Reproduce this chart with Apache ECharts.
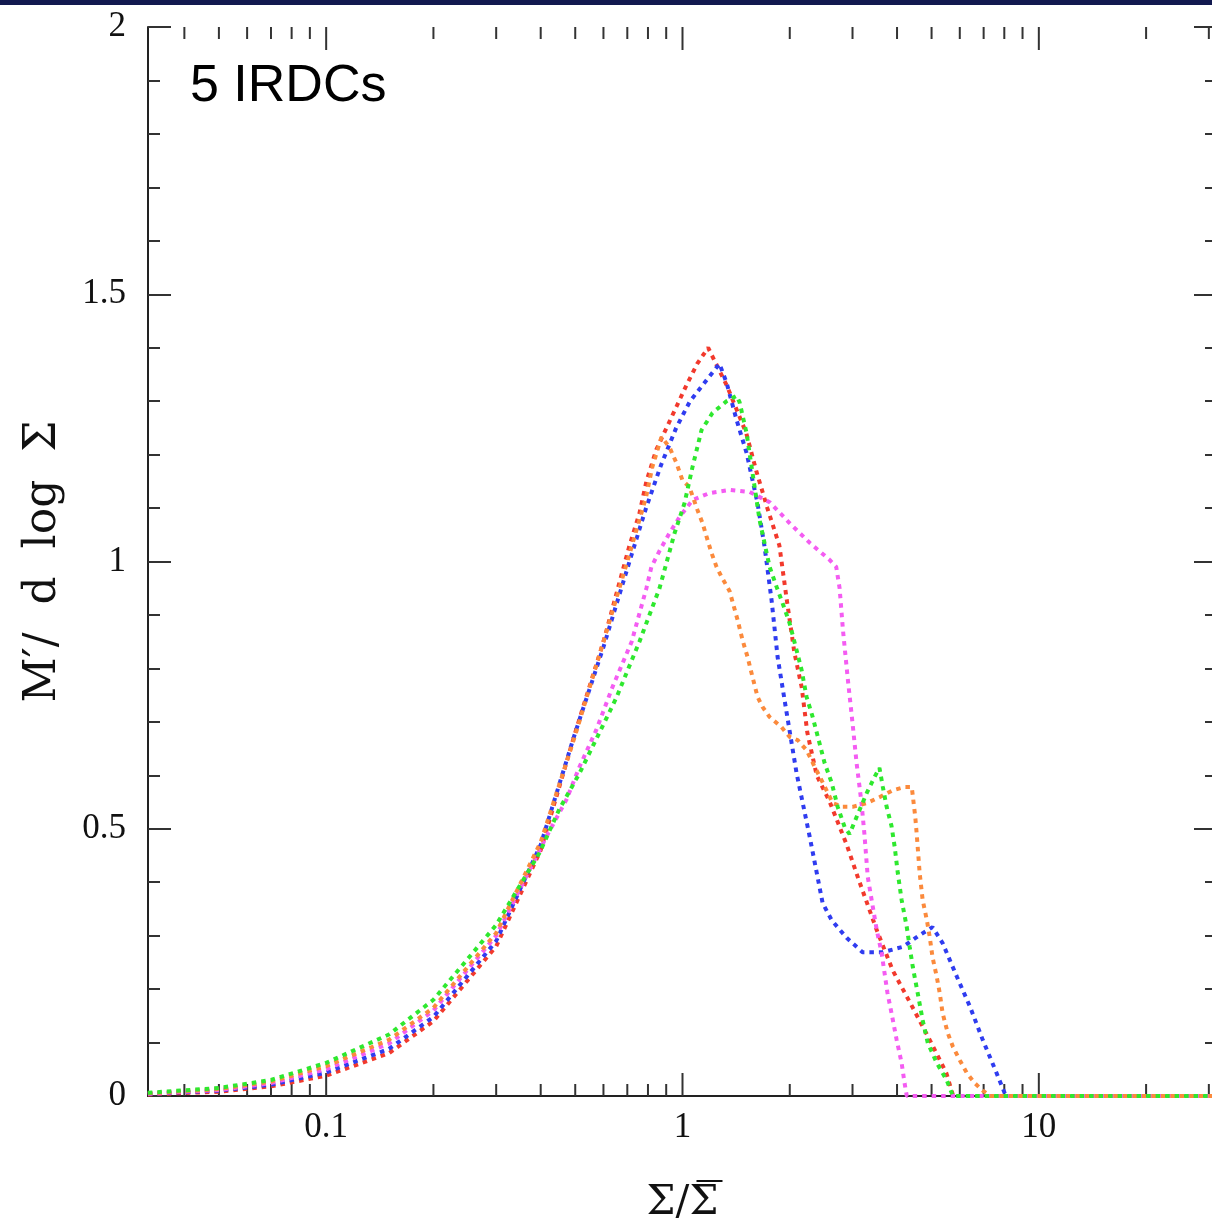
<!DOCTYPE html>
<html><head><meta charset="utf-8">
<script src="https://cdn.jsdelivr.net/npm/echarts@6/dist/echarts.min.js"></script>
<style>html,body{margin:0;padding:0;background:#fff}#c{width:1212px;height:1225px}</style>
</head><body><div id="c"></div>
<script>
// ---- data (Σ/Σ̄ , M'/dlogΣ) ----
const redPts = [[0.0316,0.003],[0.05,0.008],[0.07,0.018],[0.1,0.038],[0.15,0.08],[0.2,0.14],[0.3,0.28],[0.4,0.46],[0.5,0.68],[0.6,0.85],[0.665,0.96],[0.71,1.03],[0.757,1.09],[0.792,1.15],[0.845,1.21],[0.902,1.25],[0.962,1.29],[1.026,1.33],[1.10,1.37],[1.18,1.40],[1.33,1.33],[1.51,1.24],[1.61,1.17],[1.73,1.10],[1.87,1.03],[1.96,0.93],[2.06,0.83],[2.16,0.765],[2.24,0.68],[2.38,0.60],[2.59,0.55],[2.89,0.47],[3.14,0.40],[3.51,0.31],[3.89,0.235],[4.43,0.165],[4.94,0.105],[5.5,0.043],[5.75,0],[31.6,0]];
const bluePts = [[0.0316,0.004],[0.05,0.01],[0.07,0.021],[0.1,0.044],[0.15,0.088],[0.2,0.148],[0.3,0.29],[0.4,0.47],[0.5,0.68],[0.6,0.84],[0.71,1.0],[0.79,1.10],[0.87,1.18],[0.96,1.25],[1.05,1.30],[1.17,1.34],[1.27,1.37],[1.33,1.334],[1.418,1.265],[1.513,1.203],[1.624,1.109],[1.7,1.027],[1.778,0.928],[1.849,0.821],[1.96,0.717],[2.09,0.604],[2.275,0.485],[2.473,0.361],[2.622,0.329],[2.888,0.296],[3.2,0.269],[3.644,0.269],[4.15,0.279],[4.63,0.301],[5.03,0.316],[5.37,0.286],[5.89,0.223],[6.41,0.167],[6.96,0.105],[7.61,0.043],[8.08,0],[31.6,0]];
const greenPts = [[0.0316,0.006],[0.05,0.015],[0.07,0.03],[0.1,0.062],[0.15,0.115],[0.2,0.18],[0.3,0.32],[0.397,0.455],[0.45,0.535],[0.514,0.604],[0.584,0.679],[0.652,0.745],[0.757,0.85],[0.862,0.95],[0.95,1.053],[1.013,1.109],[1.067,1.177],[1.131,1.246],[1.214,1.278],[1.33,1.30],[1.418,1.31],[1.446,1.298],[1.513,1.24],[1.572,1.166],[1.645,1.078],[1.756,0.99],[1.838,0.952],[1.909,0.922],[1.997,0.885],[2.09,0.834],[2.159,0.797],[2.229,0.747],[2.319,0.709],[2.424,0.66],[2.505,0.623],[2.622,0.586],[2.726,0.541],[2.851,0.503],[2.943,0.49],[3.08,0.522],[3.29,0.567],[3.46,0.597],[3.57,0.614],[3.65,0.578],[3.74,0.541],[3.86,0.505],[3.94,0.466],[4.02,0.417],[4.12,0.367],[4.26,0.316],[4.34,0.279],[4.43,0.241],[4.57,0.193],[4.72,0.142],[4.88,0.099],[5.17,0.062],[5.51,0.03],[5.74,0],[31.6,0]];
const orangePts = [[0.0316,0.005],[0.05,0.013],[0.07,0.027],[0.1,0.056],[0.15,0.105],[0.2,0.165],[0.3,0.305],[0.4,0.475],[0.5,0.675],[0.6,0.85],[0.7,1.0],[0.79,1.12],[0.823,1.177],[0.873,1.233],[0.919,1.214],[0.962,1.184],[1.0,1.152],[1.046,1.139],[1.102,1.096],[1.138,1.072],[1.176,1.04],[1.206,1.016],[1.246,0.99],[1.29,0.97],[1.355,0.945],[1.427,0.891],[1.474,0.853],[1.523,0.821],[1.572,0.784],[1.624,0.747],[1.677,0.728],[1.756,0.709],[1.897,0.69],[1.997,0.672],[2.104,0.666],[2.229,0.647],[2.349,0.616],[2.455,0.591],[2.536,0.572],[2.64,0.548],[2.813,0.541],[3.0,0.541],[3.29,0.548],[3.57,0.559],[3.89,0.572],[4.2,0.578],[4.4,0.578],[4.5,0.522],[4.54,0.492],[4.63,0.417],[4.72,0.367],[4.85,0.329],[4.94,0.298],[5.03,0.26],[5.17,0.223],[5.27,0.193],[5.37,0.155],[5.55,0.118],[5.74,0.092],[6.0,0.067],[6.28,0.043],[6.61,0.024],[6.96,0.01],[7.3,0],[31.6,0]];
const magentaPts = [[0.0316,0.004],[0.05,0.011],[0.07,0.024],[0.1,0.05],[0.15,0.098],[0.2,0.16],[0.3,0.30],[0.415,0.485],[0.472,0.554],[0.514,0.616],[0.573,0.685],[0.636,0.765],[0.72,0.85],[0.792,0.95],[0.818,0.99],[0.862,1.02],[0.919,1.053],[0.981,1.083],[1.026,1.10],[1.067,1.115],[1.19,1.128],[1.355,1.134],[1.543,1.13],[1.756,1.111],[1.997,1.072],[2.275,1.035],[2.588,1.003],[2.7,0.99],[2.76,0.95],[2.82,0.872],[2.906,0.784],[3.0,0.698],[3.08,0.623],[3.18,0.548],[3.24,0.49],[3.31,0.41],[3.42,0.354],[3.51,0.31],[3.62,0.268],[3.69,0.23],[3.76,0.193],[3.86,0.155],[3.99,0.105],[4.12,0.062],[4.2,0.024],[4.26,0],[31.6,0]];

const xMajorTicks = [0.1, 1, 10];
const xTickLabels = ['0.1', '1', '10'];
const xMinorTicks = [0.04,0.05,0.06,0.07,0.08,0.09,0.2,0.3,0.4,0.5,0.6,0.7,0.8,0.9,2,3,4,5,6,7,8,9,20,30];
const yTickLabels = ['0', '0.5', '1', '1.5', '2'];
const titleText = '5 IRDCs';
const xAxisTitle = '{sp| }{ov| }\n{m|Σ/Σ}';   // Σ/Σ̄ (overline drawn on the second Σ)
const yAxisTitle = 'M\u2032/  d  log  Σ';

const chart = echarts.init(document.getElementById('c'), null, {renderer: 'canvas'});
const serif = 'Liberation Serif';
const tickColor = '#333';
const MAJOR_LEN = 23, MINOR_LEN = 12;
const xLabelOf = v => {
  const l = Math.log10(v);
  for (let i = 0; i < xMajorTicks.length; i++) {
    if (Math.abs(Math.log10(xMajorTicks[i]) - l) < 1e-6) return xTickLabels[i];
  }
  return '';
};
const mkLine = (name, pts, color) => ({
  name, type: 'line', data: pts, showSymbol: false, symbol: 'none', smooth: false,
  xAxisIndex: 0, yAxisIndex: 0, clip: true,
  lineStyle: {color, width: 4, type: [4.5, 5], cap: 'butt'}
});
const xAxisBase = {
  type: 'log', logBase: 10, min: Math.pow(10, -1.5), max: Math.pow(10, 1.5),
  axisLine: {show: true, lineStyle: {color: '#222', width: 2}},
  axisTick: {show: false},
  minorTick: {show: false}, splitLine: {show: false}
};
const yAxisBase = {
  type: 'value', min: 0, max: 2, interval: 0.5,
  axisLine: {show: true, lineStyle: {color: '#222', width: 2}},
  axisTick: {show: true, inside: true, length: MAJOR_LEN, lineStyle: {color: tickColor, width: 2}},
  minorTick: {show: true, splitNumber: 5, length: MINOR_LEN, lineStyle: {color: tickColor, width: 2}},
  splitLine: {show: false}
};
const xTickData = xMajorTicks.map(v => [v, MAJOR_LEN]).concat(xMinorTicks.map(v => [v, MINOR_LEN]));
chart.setOption({
  backgroundColor: '#ffffff',
  animation: false,
  title: {text: titleText, left: 185, top: 56, textStyle: {fontFamily: 'Liberation Sans', fontSize: 52, fontWeight: 'normal', color: '#000'}},
  graphic: [{type: 'rect', left: 0, top: 0, shape: {width: 1212, height: 5}, style: {fill: '#12194f'}}],
  grid: {left: 148, top: 27, width: 1069, height: 1069, containLabel: false, outerBoundsMode: 'none'},
  xAxis: [
    Object.assign({}, xAxisBase, {position: 'bottom',
      axisLabel: {show: true, margin: 14, showMinLabel: false, showMaxLabel: false, fontFamily: serif, fontSize: 35, color: '#111', formatter: xLabelOf},
      name: xAxisTitle, nameLocation: 'middle', nameGap: 83,
      nameTextStyle: {fontFamily: 'DejaVu Serif', fontSize: 41, color: '#111',
        rich: {
          sp: {width: 54, height: 2, lineHeight: 4, fontSize: 2},
          ov: {width: 26, height: 2, lineHeight: 4, fontSize: 2, backgroundColor: '#111'},
          m: {fontFamily: 'DejaVu Serif', fontSize: 41, lineHeight: 41, color: '#111'}
        }}}),
    Object.assign({}, xAxisBase, {position: 'top', axisLabel: {show: false}})
  ],
  yAxis: [
    Object.assign({}, yAxisBase, {position: 'left',
      axisLabel: {show: true, margin: 22, fontFamily: serif, fontSize: 35, color: '#111',
        formatter: v => yTickLabels[Math.round(v / 0.5)]},
      name: yAxisTitle, nameLocation: 'middle', nameGap: 82,
      nameTextStyle: {fontFamily: 'DejaVu Serif', fontSize: 44, color: '#111'}}),
    Object.assign({}, yAxisBase, {position: 'right', axisLabel: {show: false}})
  ],
  series: [
    {
      type: 'custom', name: 'xTicks', xAxisIndex: 0, yAxisIndex: 0, silent: true, z: 1,
      data: xTickData,
      renderItem: (params, api) => {
        const len = api.value(1);
        const b = api.coord([api.value(0), 0]);
        const t = api.coord([api.value(0), 2]);
        const st = {stroke: tickColor, lineWidth: 2};
        return {type: 'group', children: [
          {type: 'line', shape: {x1: b[0], y1: b[1], x2: b[0], y2: b[1] - len}, style: st},
          {type: 'line', shape: {x1: t[0], y1: t[1], x2: t[0], y2: t[1] + len}, style: st}
        ]};
      }
    },
    mkLine('red', redPts, '#f2392c'),
    mkLine('blue', bluePts, '#2f3cf0'),
    mkLine('magenta', magentaPts, '#f45cf2'),
    mkLine('orange', orangePts, '#fb8a3c'),
    mkLine('green', greenPts, '#2ee82e')
  ]
});
</script>
</body></html>
